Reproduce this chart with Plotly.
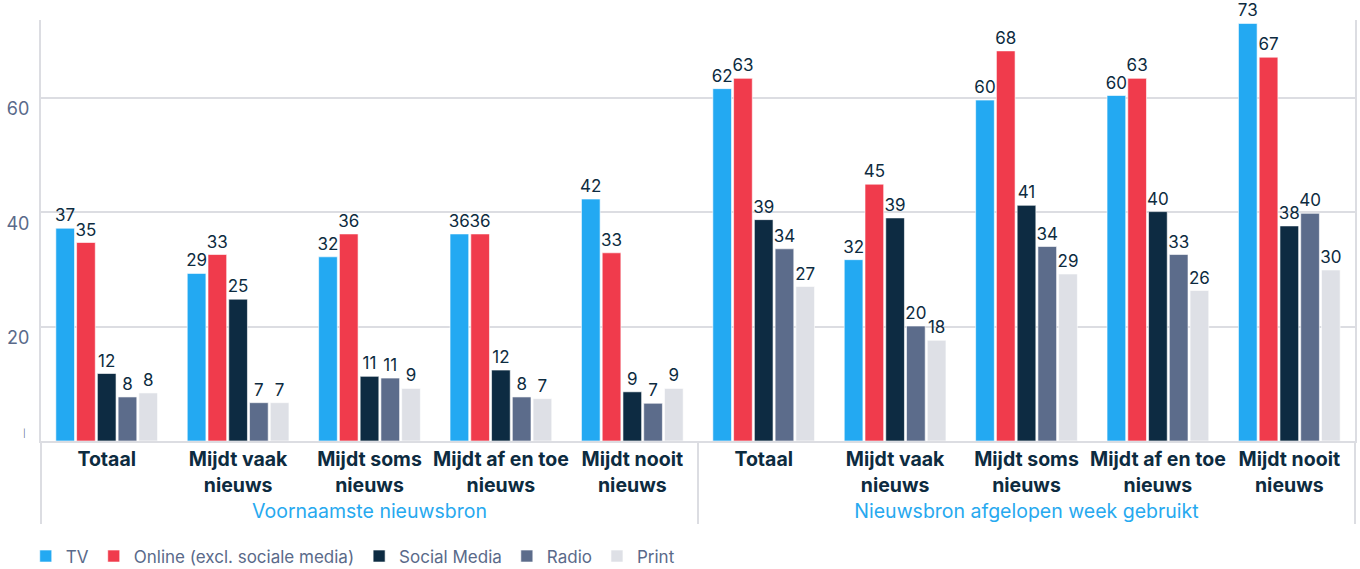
import plotly.graph_objects as go

# ---- data ----
groups = ["Voornaamste nieuwsbron"] * 5 + ["Nieuwsbron afgelopen week gebruikt"] * 5
categories = ["Totaal", "Mijdt vaak<br>nieuws", "Mijdt soms<br>nieuws",
              "Mijdt af en toe<br>nieuws", "Mijdt nooit<br>nieuws"] * 2
series_names = ["TV", "Online (excl. sociale media)", "Social Media", "Radio", "Print"]
tv = [37.2, 29.3, 32.2, 36.2, 42.3, 61.6, 31.7, 59.6, 60.4, 73.0]
online = [34.7, 32.6, 36.2, 36.2, 32.9, 63.4, 44.9, 68.2, 63.4, 67.1]
social = [11.8, 24.8, 11.3, 12.4, 8.6, 38.7, 39.0, 41.2, 40.1, 37.6]
radio = [7.7, 6.7, 11.0, 7.7, 6.6, 33.6, 20.1, 34.0, 32.6, 39.8]
print_ = [8.4, 6.7, 9.2, 7.4, 9.2, 27.0, 17.6, 29.2, 26.3, 29.9]
y_ticks = [0, 20, 40, 60]
y_ticktext = ["", "20", "40", "60"]

colors = ["#23a9f2", "#f03b4c", "#0d2b42", "#5c6c8b", "#dee0e6"]
DARK = "#0d2b40"
BLUE = "#27a9ef"
AXIS = "#5a6a8a"
GRID = "#dcdde2"
FONT = "Inter"


def fmt(label):
    return "<br>".join(
        f"<b><span style='color:{DARK}'>{part}</span></b>" for part in label.split("<br>")
    )


x = [groups, [fmt(c) for c in categories]]

fig = go.Figure()
for name, vals, col in zip(series_names, [tv, online, social, radio, print_], colors):
    fig.add_trace(go.Bar(
        name=name, x=x, y=vals,
        marker=dict(color=col, line=dict(color="rgba(255,255,255,0.6)", width=1)),
        texttemplate="%{y:.0f}", textposition="outside", constraintext="none",
        textfont=dict(family=FONT, size=17, color=DARK),
        cliponaxis=False,
    ))

fig.update_layout(
    width=1360, height=569,
    margin=dict(l=41, r=5, t=20, b=128),
    paper_bgcolor="white", plot_bgcolor="white",
    barmode="group", bargap=0.21, bargroupgap=0.1,
    font=dict(family=FONT, color=AXIS),
    showlegend=True,
    legend=dict(orientation="h", x=-0.0116, xanchor="left",
                yref="container", y=0.022, yanchor="middle",
                font=dict(family=FONT, size=17, color=AXIS), itemwidth=30,
                traceorder="normal"),
)
fig.update_xaxes(
    type="multicategory", automargin=False, tickangle=0,
    tickfont=dict(family=FONT, size=19.5, color=BLUE),
    showline=True, linecolor=GRID, linewidth=2,
    showdividers=True, dividercolor=GRID, dividerwidth=2,
    ticks="",
)
fig.update_yaxes(
    range=[0, 73.6], automargin=False,
    tickvals=y_ticks, ticktext=y_ticktext,
    tickfont=dict(family=FONT, size=18, color=AXIS),
    ticklabelshift=11, ticklabelstandoff=6,
    showgrid=True, gridcolor=GRID, gridwidth=1.5,
    zeroline=False,
    showline=True, linecolor=GRID, linewidth=2, mirror=True,
)
fig.add_annotation(xref="paper", yref="paper", x=-0.0152, y=0.003, text="|",
                   showarrow=False, font=dict(size=8, color=AXIS))

fig.write_html(
    "out.html",
    config={"displayModeBar": False},
    post_script="document.body.style.margin='0';document.body.style.overflow='hidden';",
)
